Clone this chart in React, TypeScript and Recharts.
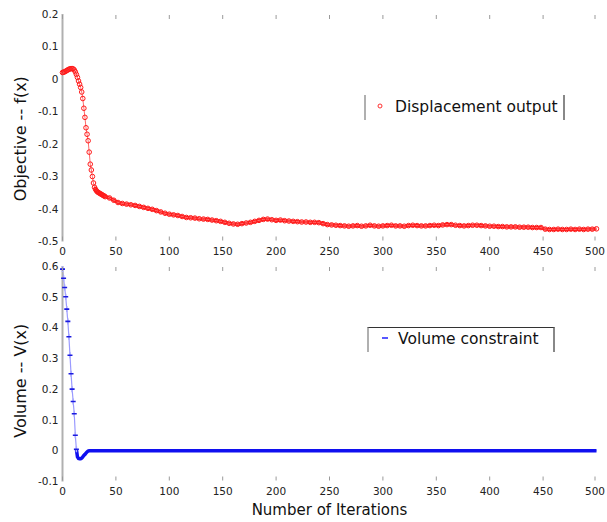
import React from 'react'
import { LineChart, Line, XAxis, YAxis, Legend, Label } from 'recharts'

const W = 607
const H = 522

const xTicks = [0, 50, 100, 150, 200, 250, 300, 350, 400, 450, 500]
const objTicks = [-0.5, -0.4, -0.3, -0.2, -0.1, 0, 0.1, 0.2]
const volTicks = [-0.1, 0, 0.1, 0.2, 0.3, 0.4, 0.5, 0.6]

// objective, iterations 0..40 (one per iteration)
const objEarly = [
  0.020, 0.021, 0.022, 0.024, 0.026, 0.028, 0.030, 0.031, 0.032, 0.032,
  0.031, 0.028, 0.022, 0.014, 0.005, -0.006, -0.016, -0.026, -0.040, -0.060,
  -0.090, -0.118, -0.150, -0.170, -0.190, -0.225, -0.262, -0.280, -0.300, -0.320,
  -0.333, -0.340, -0.345, -0.348, -0.350, -0.352, -0.354, -0.356, -0.358, -0.360,
  -0.362,
]
// objective, iterations 44..500 (every 4th iteration)
const objLate = [
  -0.366, -0.373, -0.380, -0.383, -0.385, -0.387, -0.389, -0.392, -0.395, -0.398,
  -0.401, -0.405, -0.409, -0.413, -0.416, -0.418, -0.420, -0.423, -0.426, -0.427,
  -0.428, -0.430, -0.431, -0.432, -0.434, -0.436, -0.438, -0.441, -0.444, -0.446,
  -0.447, -0.445, -0.443, -0.441, -0.438, -0.435, -0.432, -0.431, -0.433, -0.435,
  -0.434, -0.436, -0.437, -0.438, -0.439, -0.440, -0.440, -0.441, -0.441, -0.442,
  -0.445, -0.448, -0.449, -0.450, -0.451, -0.452, -0.453, -0.452, -0.451, -0.453,
  -0.452, -0.450, -0.452, -0.453, -0.452, -0.451, -0.450, -0.452, -0.452, -0.453,
  -0.451, -0.450, -0.451, -0.452, -0.452, -0.451, -0.450, -0.451, -0.449, -0.448,
  -0.448, -0.450, -0.451, -0.452, -0.451, -0.450, -0.450, -0.451, -0.452, -0.453,
  -0.453, -0.454, -0.454, -0.455, -0.455, -0.455, -0.456, -0.456, -0.456, -0.457,
  -0.457, -0.457, -0.462, -0.463, -0.463, -0.462, -0.463, -0.463, -0.462, -0.463,
  -0.462, -0.463, -0.462, -0.462, -0.461,
]

// volume constraint, iterations 0..25
const volEarly = [
  0.590, 0.560, 0.530, 0.500, 0.460, 0.420, 0.370, 0.310, 0.250, 0.200,
  0.160, 0.120, 0.050, 0.005, -0.020, -0.025, -0.026, -0.026, -0.024, -0.020,
  -0.015, -0.012, -0.008, -0.004, -0.001, 0.000,
]
// volume constraint, iterations 50..500 (every 25th)
const volLate = [0, 0, 0, 0, 0, 0, 0, 0, 0, 0, 0, 0, 0, 0, 0, 0, 0, 0, 0]

const objData = [
  ...objEarly.map((v, i) => ({ iter: i, obj: v })),
  ...objLate.map((v, i) => ({ iter: 44 + i * 4, obj: v })),
]
const objDense = objData.filter((d) => d.iter >= 30)
const volData = [
  ...volEarly.map((v, i) => ({ iter: i, vol: v })),
  ...volLate.map((v, i) => ({ iter: 50 + i * 25, vol: v })),
]
const volDense = volData.filter((d) => d.iter >= 13)

const fmt = (v: number) => (v === 0 ? '0' : v.toFixed(1))
const tickStyle = { fontSize: 10.5, fill: '#222' }
const gray = '#b0b0b0'
const tickGray = '#9a9a9a'

// bottom x ticks: short inward mark plus the label below the axis
function BottomTick(props: any) {
  const { x, y, payload } = props
  return (
    <g>
      <line x1={x} y1={y - 1} x2={x} y2={y - 5} stroke={tickGray} strokeWidth={1} />
      <text x={x} y={y + 13} textAnchor="middle" fontSize={10.5} fill="#222">{payload.value}</text>
    </g>
  )
}

// top x ticks: short inward mark only
function TopTick(props: any) {
  const { x, y } = props
  return <line x1={x} y1={y + 1} x2={x} y2={y + 5} stroke={tickGray} strokeWidth={1} />
}

function RightTick(props: any) {
  const { x, y } = props
  return <line x1={x - 5} y1={y} x2={x} y2={y} stroke="#111" strokeWidth={1.5} />
}

function CircleDot(props: any) {
  const { cx, cy } = props
  if (cx == null || cy == null) return null
  return <circle key={props.key} cx={cx} cy={cy} r={2.3} fill="none" stroke="#ff1a1a" strokeWidth={1} />
}

function PlusDot(props: any) {
  const { cx, cy, payload } = props
  if (cx == null || cy == null || payload.iter > 13) return <g key={props.key} />
  return (
    <g key={props.key}>
      <line x1={cx} y1={cy - 3} x2={cx} y2={cy + 3} stroke="#a8a8ff" strokeWidth={1.5} />
      <line x1={cx - 2.5} y1={cy} x2={cx + 2.5} y2={cy} stroke="#1a1ae0" strokeWidth={1.6} />
    </g>
  )
}

const yLabel = (text: string, shift: number) => (props: any) => {
  const vb = props.viewBox
  const x = 20
  const y = vb.y + vb.height / 2 + shift
  return (
    <text x={x} y={y} transform={`rotate(-90, ${x}, ${y})`} textAnchor="middle" dominantBaseline="central" fontSize={16} fill="#111">
      {text}
    </text>
  )
}

const TopLegend = () => (
  <div style={{ position: 'relative', width: 201, height: 25, boxSizing: 'border-box', borderLeft: `2px solid ${gray}`, borderRight: '2px solid #888', color: '#111', fontSize: 15.5 }}>
    <svg width={10} height={10} style={{ position: 'absolute', left: 9, top: 6 }}>
      <circle cx={5} cy={5} r={2} fill="none" stroke="#ff3030" />
    </svg>
    <span style={{ position: 'absolute', left: 29, top: 3, lineHeight: '18px', whiteSpace: 'nowrap' }}>Displacement output</span>
  </div>
)

const BottomLegend = () => (
  <div style={{ position: 'relative', width: 188, height: 25, boxSizing: 'border-box', borderTop: '1.5px solid #333', borderLeft: `2px solid ${gray}`, borderRight: '2px solid #888', color: '#111', fontSize: 15.5 }}>
    <svg width={10} height={10} style={{ position: 'absolute', left: 11, top: 5 }}>
      <line x1={2} y1={5} x2={8} y2={5} stroke="#2020ff" strokeWidth={1.5} />
    </svg>
    <span style={{ position: 'absolute', left: 29, top: 2, lineHeight: '18px', whiteSpace: 'nowrap' }}>Volume constraint</span>
  </div>
)

export default function App() {
  return (
    <div style={{ position: 'absolute', left: 0, top: 0, width: W, height: H, background: '#fff', fontFamily: '"DejaVu Sans", sans-serif' }}>
      <div style={{ position: 'absolute', left: 0, top: 0 }}>
        <LineChart width={W} height={H} data={objData} margin={{ top: 14, right: 10.5, bottom: H - 241.5 - 20, left: 0 }}>
          <XAxis dataKey="iter" type="number" domain={[0, 500]} ticks={xTicks} height={20}
            axisLine={false} tickLine={false} tickSize={0} tickMargin={0} tick={<BottomTick />} />
          <XAxis xAxisId="top" orientation="top" mirror dataKey="iter" type="number" domain={[0, 500]} ticks={xTicks} height={10}
            axisLine={false} tickLine={false} tickSize={0} tickMargin={0} tick={<TopTick />} />
          <YAxis type="number" domain={[-0.5, 0.2]} ticks={objTicks} width={62.5} allowDataOverflow
            tickFormatter={fmt} tick={tickStyle} tickLine={false} tickSize={0} tickMargin={4}
            axisLine={{ stroke: gray, strokeWidth: 2 }}>
            <Label content={yLabel('Objective -- f(x)', 11)} />
          </YAxis>
          <YAxis yAxisId="right" orientation="right" width={0} domain={[-0.5, 0.2]} tick={false} tickLine={false}
            axisLine={{ stroke: gray, strokeWidth: 2 }} />
          <Line data={objDense} dataKey="obj" stroke="#ff2020" strokeWidth={3.2} dot={false} isAnimationActive={false} />
          <Line dataKey="obj" stroke="#ff6a6a" strokeWidth={1} dot={<CircleDot />} isAnimationActive={false} />
          <Legend layout="horizontal" verticalAlign="middle" align="center" content={<TopLegend />}
            wrapperStyle={{ left: 364, top: 95, width: 201 }} />
        </LineChart>
      </div>
      <div style={{ position: 'absolute', left: 0, top: 0 }}>
        <LineChart width={W} height={H} data={volData} margin={{ top: 266, right: 10.5, bottom: 0.5, left: 0 }}>
          <XAxis dataKey="iter" type="number" domain={[0, 500]} ticks={xTicks} height={40}
            axisLine={false} tickLine={false} tickSize={0} tickMargin={0} tick={<BottomTick />}>
            <Label value="Number of Iterations" position="insideBottom" offset={6.5} fontSize={15} fill="#111" />
          </XAxis>
          <XAxis xAxisId="top" orientation="top" mirror dataKey="iter" type="number" domain={[0, 500]} ticks={xTicks} height={10}
            axisLine={false} tickLine={false} tickSize={0} tickMargin={0} tick={<TopTick />} />
          <YAxis type="number" domain={[-0.1, 0.6]} ticks={volTicks} width={62.5} allowDataOverflow
            tickFormatter={fmt} tick={tickStyle} tickLine={false} tickSize={0} tickMargin={4}
            axisLine={{ stroke: gray, strokeWidth: 2 }}>
            <Label content={yLabel('Volume -- V(x)', 7)} />
          </YAxis>
          <YAxis yAxisId="right" orientation="right" width={0} domain={[-0.1, 0.6]} ticks={[0.3]}
            tickLine={false} tickSize={0} tickMargin={0} tick={<RightTick />} axisLine={{ stroke: gray, strokeWidth: 2 }} />
          <Line dataKey="vol" stroke="#9a9aff" strokeWidth={1.2} dot={<PlusDot />} isAnimationActive={false} />
          <Line data={volDense} dataKey="vol" stroke="#1010f0" strokeWidth={3.5} dot={false} isAnimationActive={false} />
          <Legend layout="horizontal" verticalAlign="middle" align="center" content={<BottomLegend />}
            wrapperStyle={{ left: 367, top: 327, width: 188 }} />
        </LineChart>
      </div>
    </div>
  )
}
